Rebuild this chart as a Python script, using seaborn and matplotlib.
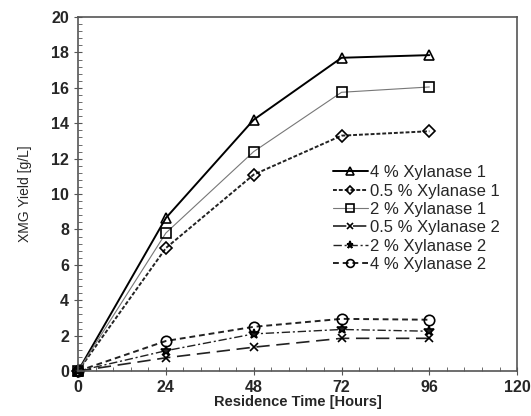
import matplotlib.pyplot as plt
import matplotlib
import numpy as np
import pandas as pd
import seaborn as sns

sns.set_style('ticks')
matplotlib.rcParams['font.family'] = ['Liberation Sans', 'DejaVu Sans']

hours = [0, 24, 48, 72, 96]
series_names = ['4 % Xylanase 1', '0.5 % Xylanase 1', '2 % Xylanase 1',
                '0.5 % Xylanase 2', '2 % Xylanase 2', '4 % Xylanase 2']
x1_4 = [0, 8.65, 14.2, 17.7, 17.85]
x1_05 = [0, 6.95, 11.1, 13.3, 13.55]
x1_2 = [0, 7.8, 12.4, 15.75, 16.05]
x2_05 = [0, 0.75, 1.35, 1.85, 1.85]
x2_2 = [0, 1.15, 2.1, 2.35, 2.25]
x2_4 = [0, 1.7, 2.5, 2.95, 2.9]
values = [x1_4, x1_05, x1_2, x2_05, x2_2, x2_4]

rows = []
for name, vals in zip(series_names, values):
    for h, v in zip(hours, vals):
        rows.append({'series': name, 'hours': h, 'yield': v})
df = pd.DataFrame(rows)

# line style, line width, colour, marker, marker size
styles = {
    '4 % Xylanase 1': ('-', 1.4, 'black', '^', 7.5),
    '0.5 % Xylanase 1': ((0, (2, 1)), 1.4, '#222222', 'D', 6),
    '2 % Xylanase 1': ('-', 0.8, '#777777', 's', 7.5),
    '0.5 % Xylanase 2': ((0, (8, 4)), 1.2, '#222222', 'x', 6),
    '2 % Xylanase 2': ((0, (6, 2, 1.5, 2)), 1.0, '#222222', '*', 7),
    '4 % Xylanase 2': ((0, (3, 2)), 1.4, '#222222', 'o', 7.5),
}

fig, ax = plt.subplots(figsize=(5.31, 4.16), dpi=100)
plt.subplots_adjust(left=0.147, right=0.974, bottom=0.108, top=0.959)

for name in series_names:
    ls, lw, c, m, ms = styles[name]
    sub = df[df['series'] == name]
    sns.lineplot(data=sub, x='hours', y='yield', ax=ax, label=name,
                 color=c, linestyle=ls, linewidth=lw, marker=m, markersize=ms,
                 markerfacecolor='none' if m not in ('x', '*') else c,
                 markeredgecolor='black', markeredgewidth=1.2, clip_on=False)

ax.set_xlim(0, 120)
ax.set_ylim(0, 20)
ax.set_xticks([0, 24, 48, 72, 96, 120])
ax.set_yticks(np.arange(0, 21, 2))
ax.set_xticks(np.arange(0, 120.1, 4.8), minor=True)
ax.set_yticks(np.arange(0, 20.1, 0.4), minor=True)
ax.tick_params(which='major', direction='inout', length=6, width=0.8,
               labelsize=11.5, color='#555555')
ax.tick_params(which='minor', direction='in', length=3, width=0.6, color='#555555')
for lab in ax.get_xticklabels() + ax.get_yticklabels():
    lab.set_fontweight('bold')
for s in ax.spines.values():
    s.set_visible(True)
    s.set_color('#555555')
    s.set_linewidth(1.2)

ax.set_xlabel('Residence Time [Hours]', fontsize=10.5, fontweight='bold', labelpad=0)
ax.set_ylabel('XMG Yield [g/L]', fontsize=10, labelpad=14)

leg = ax.legend(loc='upper left', bbox_to_anchor=(0.565, 0.6), frameon=False,
                fontsize=12, handlelength=2.1, handletextpad=0.15,
                labelspacing=0.2, borderaxespad=0, markerscale=0.75)

plt.savefig('out.png', dpi=100)
plt.close()
